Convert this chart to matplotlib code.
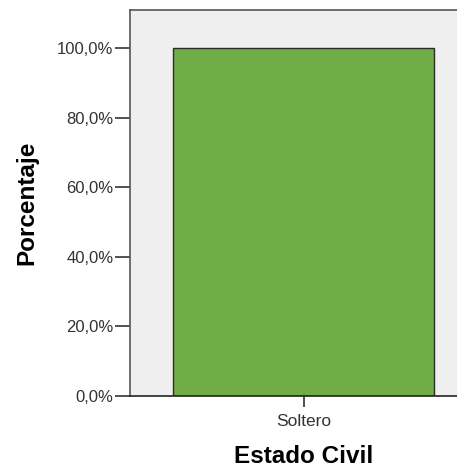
import numpy as np
import matplotlib.pyplot as plt

categorias = ['Soltero']
porcentajes = [100.0]
ticks_y = [0, 20, 40, 60, 80, 100]
etiquetas_y = ['0,0%', '20,0%', '40,0%', '60,0%', '80,0%', '100,0%']

fig = plt.figure(figsize=(4.57, 4.71), dpi=100)
# el eje se sale por la derecha, como en la captura de SPSS
ax = fig.add_axes([130 / 457, (471 - 396) / 471, 347 / 457, 386 / 471])
ax.set_facecolor('#efefef')

x = np.arange(len(categorias))
ax.bar(x, porcentajes, width=1.0, color='#70ad47', edgecolor='#2b2b2b', linewidth=1.0)

ax.set_xlim(-0.665, 0.665)
ax.set_ylim(0, 110.9)
ax.set_xticks(x)
ax.set_xticklabels(categorias, family='Liberation Sans', fontsize=12.5, color='#333333')
ax.set_yticks(ticks_y)
ax.set_yticklabels(etiquetas_y, family='Liberation Sans', fontsize=12, color='#333333')
ax.tick_params(axis='y', length=11, width=1.2, color='#333333', pad=1)
ax.tick_params(axis='x', length=8, width=1.2, color='#333333', pad=5)

for lado in ['left', 'bottom', 'top']:
    ax.spines[lado].set_color('#555555')
    ax.spines[lado].set_linewidth(1.2)
ax.spines['bottom'].set_color('#222222')
ax.spines['right'].set_visible(False)

ax.set_ylabel('Porcentaje', family='Liberation Sans', fontsize=17.5, fontweight='bold')
ax.yaxis.set_label_coords((38 - 130) / 347, 0.5)
ax.set_xlabel('Estado Civil', family='Liberation Sans', fontsize=17.5, fontweight='bold')
ax.xaxis.set_label_coords((304 - 130) / 347, -(445 - 396) / 386)

fig.savefig('out.png', dpi=100)
